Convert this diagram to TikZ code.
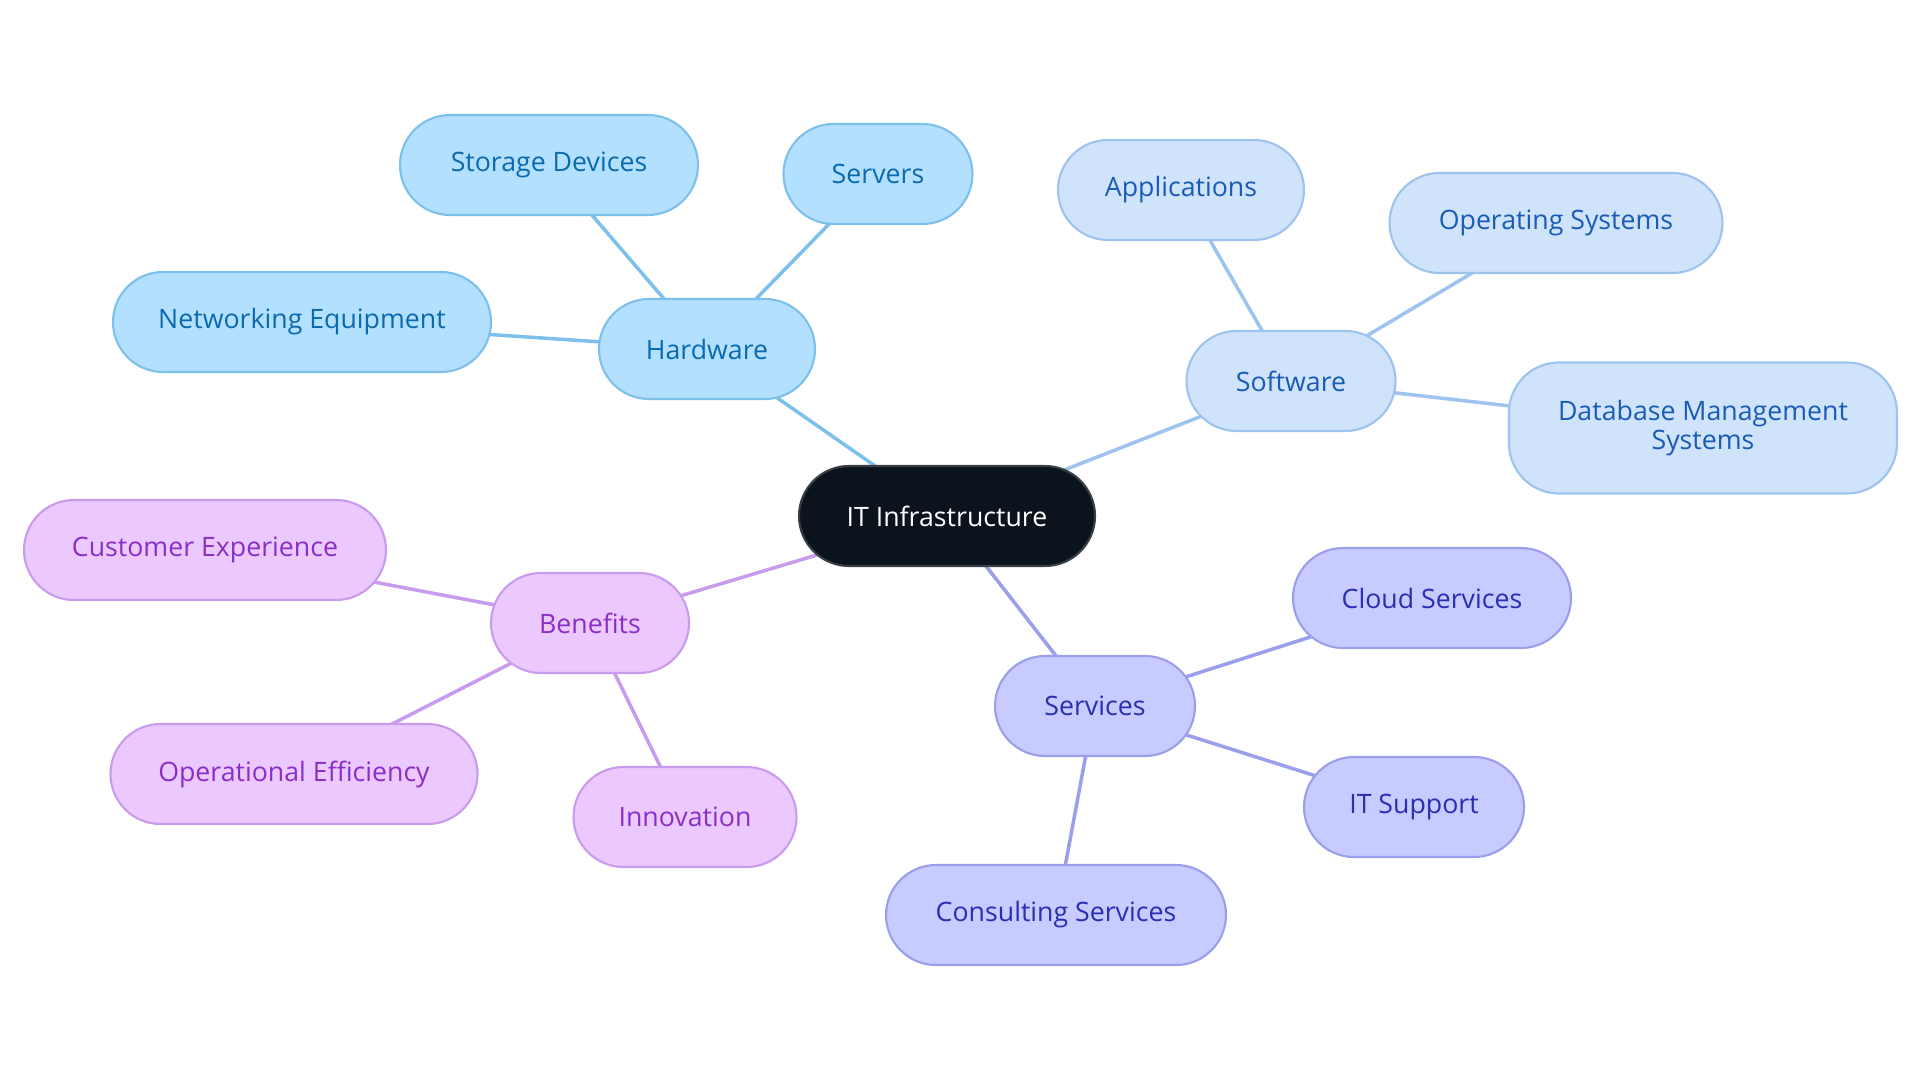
\documentclass[tikz,border=0pt]{standalone}
\usepackage{fontspec}
\setmainfont{Open Sans}
\usepackage{xcolor}
\usetikzlibrary{positioning, backgrounds}

\definecolor{rootfill}{HTML}{0B141C}
\definecolor{rootdraw}{HTML}{3A3F44}
\definecolor{hwfill}{HTML}{B3E0FF}
\definecolor{hwdraw}{HTML}{7CC0EB}
\definecolor{hwtext}{HTML}{0A6AB0}
\definecolor{swfill}{HTML}{CFE3FA}
\definecolor{swdraw}{HTML}{9DC3EE}
\definecolor{swtext}{HTML}{1A5CB5}
\definecolor{bffill}{HTML}{EBC8FD}
\definecolor{bfdraw}{HTML}{C99BEE}
\definecolor{bftext}{HTML}{8A2EC8}
\definecolor{svfill}{HTML}{C7CBFF}
\definecolor{svdraw}{HTML}{9A9EEB}
\definecolor{svtext}{HTML}{2A2EB0}

\tikzset{
  mm/.style={rounded corners=0.5cm, minimum height=1cm, align=center,
    line width=0.6pt, inner sep=0pt, font=\fontsize{7.6}{8.4}\selectfont},
  rootbox/.style={mm, fill=rootfill, draw=rootdraw, text=white},
  hwbox/.style={mm, fill=hwfill, draw=hwdraw, text=hwtext},
  swbox/.style={mm, fill=swfill, draw=swdraw, text=swtext},
  bfbox/.style={mm, fill=bffill, draw=bfdraw, text=bftext},
  svbox/.style={mm, fill=svfill, draw=svdraw, text=svtext},
  hwedge/.style={draw=hwdraw, line width=1pt},
  swedge/.style={draw=swdraw, line width=1pt},
  bfedge/.style={draw=bfdraw, line width=1pt},
  svedge/.style={draw=svdraw, line width=1pt}
}

\begin{document}
\begin{tikzpicture}
  \useasboundingbox (0,0) rectangle (19.2,-10.83);

  \node[rootbox, minimum width=2.96cm] (it) at (9.47,-5.16) {IT Infrastructure};

  % hardware
  \node[hwbox, minimum width=2.16cm] (hw) at (7.07,-3.49) {Hardware};
  \node[hwbox, minimum width=2.98cm] (storage) at (5.49,-1.65) {Storage Devices};
  \node[hwbox, minimum width=1.89cm] (servers) at (8.78,-1.74) {Servers};
  \node[hwbox, minimum width=3.78cm] (network) at (3.02,-3.22) {Networking Equipment};

  % software
  \node[swbox, minimum width=2.09cm] (sw) at (12.91,-3.81) {Software};
  \node[swbox, minimum width=2.46cm] (apps) at (11.81,-1.90) {Applications};
  \node[swbox, minimum width=3.33cm] (os) at (15.56,-2.23) {Operating Systems};
  \node[swbox, minimum width=3.88cm, minimum height=1.31cm] (dbms) at (17.03,-4.28) {Database Management\\Systems};

  % benefits
  \node[bfbox, minimum width=1.98cm] (bf) at (5.90,-6.23) {Benefits};
  \node[bfbox, minimum width=3.62cm] (cx) at (2.05,-5.50) {Customer Experience};
  \node[bfbox, minimum width=3.67cm] (opeff) at (2.94,-7.74) {Operational Efficiency};
  \node[bfbox, minimum width=2.23cm] (innov) at (6.85,-8.17) {Innovation};

  % services
  \node[svbox, minimum width=2.00cm] (sv) at (10.95,-7.06) {Services};
  \node[svbox, minimum width=2.78cm] (cloud) at (14.32,-5.98) {Cloud Services};
  \node[svbox, minimum width=2.20cm] (support) at (14.14,-8.07) {IT Support};
  \node[svbox, minimum width=3.40cm] (consult) at (10.56,-9.15) {Consulting Services};

  \begin{scope}[on background layer]
    \draw[hwedge] (it.center) -- (hw.center);
    \draw[hwedge] (hw.center) -- (storage.center);
    \draw[hwedge] (hw.center) -- (servers.center);
    \draw[hwedge] (hw.center) -- (network.center);
    \draw[swedge] (it.center) -- (sw.center);
    \draw[swedge] (sw.center) -- (apps.center);
    \draw[swedge] (sw.center) -- (os.center);
    \draw[swedge] (sw.center) -- (dbms.center);
    \draw[bfedge] (it.center) -- (bf.center);
    \draw[bfedge] (bf.center) -- (cx.center);
    \draw[bfedge] (bf.center) -- (opeff.center);
    \draw[bfedge] (bf.center) -- (innov.center);
    \draw[svedge] (it.center) -- (sv.center);
    \draw[svedge] (sv.center) -- (cloud.center);
    \draw[svedge] (sv.center) -- (support.center);
    \draw[svedge] (sv.center) -- (consult.center);
  \end{scope}
\end{tikzpicture}
\end{document}
